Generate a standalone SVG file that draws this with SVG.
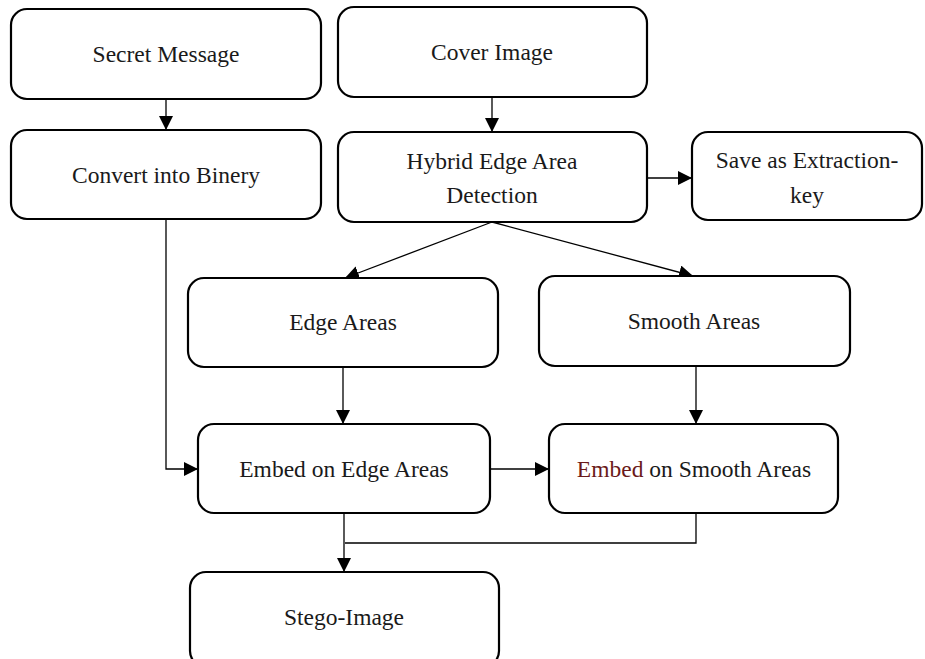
<svg xmlns="http://www.w3.org/2000/svg" width="925" height="659" viewBox="0 0 925 659">
<style>
.box{fill:#fff;stroke:#000;stroke-width:2.2}
.t{font-family:"Liberation Serif","Times New Roman",serif;font-size:23.5px;fill:#1a1a1a;text-anchor:middle}
.c{fill:none;stroke:#000;stroke-width:1.3}
</style>
<defs>
<marker id="ah" viewBox="0 0 14 14" refX="14" refY="7" markerWidth="14" markerHeight="14" markerUnits="userSpaceOnUse" orient="auto">
<path d="M0,0 L14,7 L0,14 Z" fill="#000"/>
</marker>
</defs>
<rect width="925" height="659" fill="#fff"/>
<g id="connectors">
<line class="c" x1="166" y1="99" x2="166" y2="130" marker-end="url(#ah)"/>
<line class="c" x1="492" y1="97" x2="492" y2="132" marker-end="url(#ah)"/>
<line class="c" x1="647" y1="178" x2="692" y2="178" marker-end="url(#ah)"/>
<line class="c" x1="492" y1="222" x2="345" y2="278" marker-end="url(#ah)"/>
<line class="c" x1="492" y1="222" x2="693" y2="276" marker-end="url(#ah)"/>
<polyline class="c" points="166,219 166,469 198,469" marker-end="url(#ah)"/>
<line class="c" x1="343" y1="367" x2="343" y2="424" marker-end="url(#ah)"/>
<line class="c" x1="696" y1="366" x2="696" y2="424" marker-end="url(#ah)"/>
<line class="c" x1="490" y1="469" x2="549" y2="469" marker-end="url(#ah)"/>
<polyline class="c" points="696,513 696,543 345,543"/>
<line class="c" x1="344" y1="513" x2="344" y2="572" marker-end="url(#ah)"/>
</g>
<g id="secret-message">
<rect class="box" x="11" y="9" width="310" height="90" rx="16"/>
<text class="t" x="166" y="62">Secret Message</text>
</g>
<g id="cover-image">
<rect class="box" x="338" y="7" width="309" height="90" rx="16"/>
<text class="t" x="492" y="60">Cover Image</text>
</g>
<g id="convert-binery">
<rect class="box" x="11" y="130" width="310" height="89" rx="16"/>
<text class="t" x="166" y="183">Convert into Binery</text>
</g>
<g id="hybrid">
<rect class="box" x="338" y="132" width="309" height="90" rx="16"/>
<text class="t" x="492" y="169">Hybrid Edge Area</text>
<text class="t" x="492" y="203">Detection</text>
</g>
<g id="save-key">
<rect class="box" x="692" y="132" width="230" height="88" rx="16"/>
<text class="t" x="807" y="168">Save as Extraction-</text>
<text class="t" x="807" y="203">key</text>
</g>
<g id="edge-areas">
<rect class="box" x="188" y="278" width="310" height="89" rx="16"/>
<text class="t" x="343" y="330">Edge Areas</text>
</g>
<g id="smooth-areas">
<rect class="box" x="539" y="276" width="311" height="90" rx="16"/>
<text class="t" x="694" y="329">Smooth Areas</text>
</g>
<g id="embed-edge">
<rect class="box" x="198" y="424" width="292" height="89" rx="16"/>
<text class="t" x="344" y="477">Embed on Edge Areas</text>
</g>
<g id="embed-smooth">
<rect class="box" x="549" y="424" width="289" height="89" rx="16"/>
<text class="t" x="694" y="477"><tspan fill="#6b1a1a">Embed</tspan> on Smooth Areas</text>
</g>
<g id="stego-image">
<rect class="box" x="190" y="572" width="309" height="95" rx="16"/>
<text class="t" x="344" y="625">Stego-Image</text>
</g>
</svg>
